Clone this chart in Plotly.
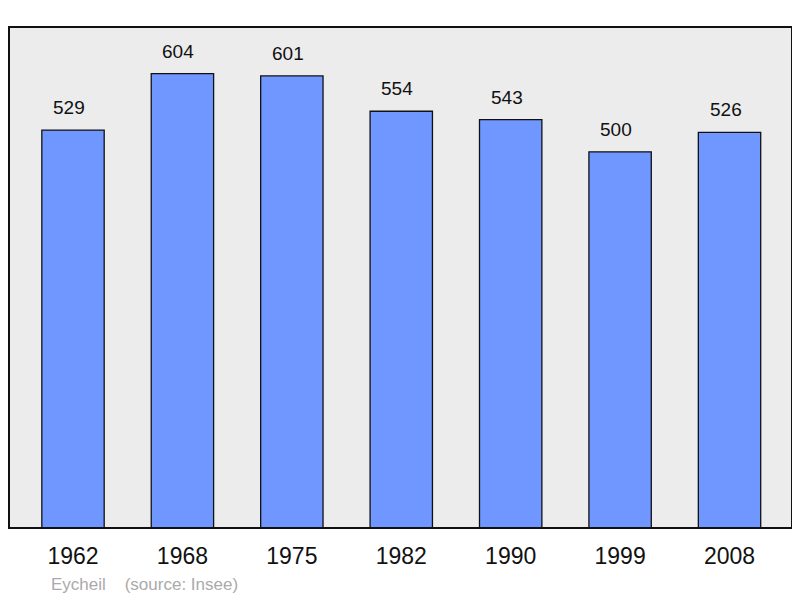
import plotly.graph_objects as go

years = ["1962", "1968", "1975", "1982", "1990", "1999", "2008"]
population = [529, 604, 601, 554, 543, 500, 526]
source_text = "Eycheil    (source: Insee)"

idx = list(range(len(years)))

fig = go.Figure()
fig.add_trace(go.Bar(
    x=idx, y=population, width=0.57,
    marker=dict(color="#7096ff", line=dict(color="#111111", width=1.3)),
    hoverinfo="skip",
))

for i, v in zip(idx, population):
    fig.add_annotation(x=i, y=v, text=str(v), showarrow=False, yanchor="bottom",
                       yshift=10, xshift=-4,
                       font=dict(family="Liberation Sans, Arial", size=19, color="#111"))

fig.add_annotation(xref="paper", yref="paper", x=(49 - 9) / 783, y=-0.1118,
                   xanchor="left", yanchor="middle", text=source_text, showarrow=False,
                   font=dict(family="Liberation Sans, Arial", size=17, color="#aaaaaa"))

fig.add_shape(type="rect", xref="paper", yref="paper", x0=0, x1=1, y0=0, y1=1,
              line=dict(color="#111111", width=2), layer="above")

fig.update_layout(
    width=792, height=590,
    margin=dict(l=1, r=8, t=19, b=70),
    paper_bgcolor="white", plot_bgcolor="#ececec",
    showlegend=False,
    xaxis=dict(range=[-0.585, 6.571], tickvals=idx, ticktext=years, showgrid=False,
               zeroline=False, ticks="outside", ticklen=7, tickcolor="rgba(0,0,0,0)",
               tickfont=dict(family="Liberation Sans, Arial", size=23, color="#111")),
    yaxis=dict(range=[0, 666], showticklabels=False, showgrid=False, zeroline=False),
)

fig.write_html("out.html")
